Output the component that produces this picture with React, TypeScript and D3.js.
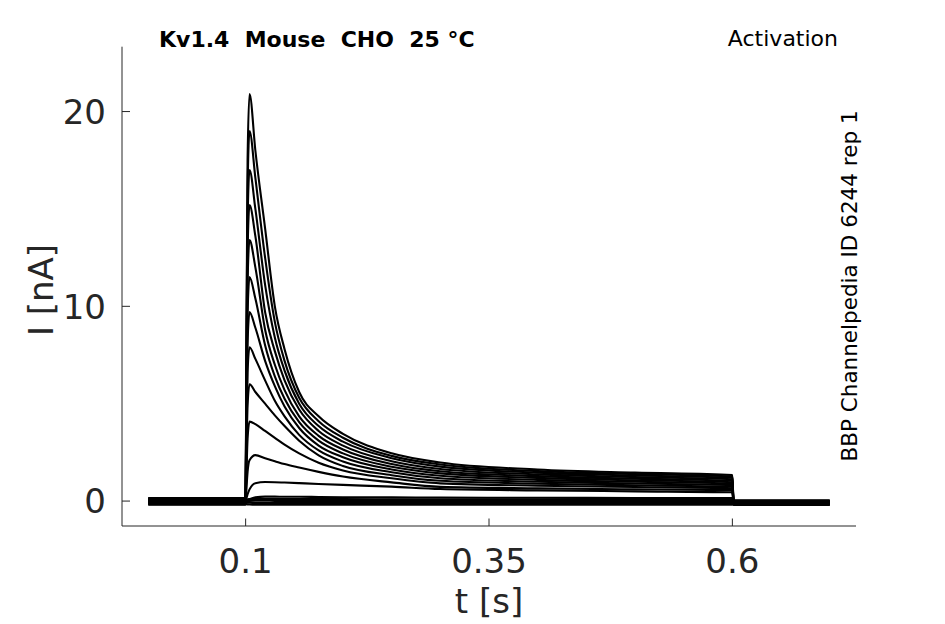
import React from 'react'
import * as d3 from 'd3'

// sample times inside the voltage step (s)
const pulseTimes = [0.1008, 0.102, 0.104, 0.11, 0.12, 0.13, 0.14, 0.155, 0.175, 0.2, 0.25, 0.3, 0.4, 0.5, 0.6]
const tailTimes = [0.6012, 0.7]

// current (nA) of each sweep at pulseTimes
const sweeps = [
  [8, 17.5, 20.9, 18.0, 14.0, 10.0, 7.8, 5.6, 4.35, 3.45, 2.45, 1.98, 1.62, 1.46, 1.34],
  [7.3, 16, 19.0, 16.6, 12.5, 9.2, 7.2, 5.3, 4.1, 3.25, 2.32, 1.88, 1.54, 1.39, 1.27],
  [6.5, 14.3, 17.0, 15.0, 11.1, 8.4, 6.7, 5.0, 3.85, 3.05, 2.2, 1.77, 1.46, 1.31, 1.2],
  [5.8, 12.8, 15.2, 13.6, 9.7, 7.7, 6.2, 4.7, 3.6, 2.85, 2.05, 1.65, 1.37, 1.23, 1.12],
  [5.1, 11.2, 13.4, 12.0, 8.8, 7.0, 5.7, 4.35, 3.35, 2.65, 1.9, 1.53, 1.28, 1.15, 1.04],
  [4.4, 9.6, 11.5, 10.4, 8.0, 6.4, 5.25, 4.05, 3.1, 2.45, 1.76, 1.42, 1.19, 1.07, 0.97],
  [3.7, 8.1, 9.7, 8.9, 7.2, 5.9, 4.85, 3.75, 2.85, 2.25, 1.62, 1.3, 1.09, 0.99, 0.9],
  [3.0, 6.6, 7.9, 7.3, 6.2, 5.15, 4.35, 3.4, 2.6, 2.03, 1.48, 1.17, 0.99, 0.9, 0.82],
  [2.2, 4.9, 6.0, 5.6, 5.0, 4.4, 3.85, 3.1, 2.35, 1.8, 1.33, 1.04, 0.89, 0.81, 0.74],
  [1.4, 3.2, 4.08, 3.95, 3.6, 3.25, 2.9, 2.45, 1.97, 1.57, 1.17, 0.91, 0.79, 0.72, 0.66],
  [0.6, 1.5, 2.1, 2.36, 2.2, 2.05, 1.9, 1.72, 1.5, 1.26, 0.96, 0.73, 0.65, 0.6, 0.56],
  [0.15, 0.35, 0.6, 0.92, 0.98, 0.97, 0.95, 0.92, 0.88, 0.83, 0.74, 0.62, 0.55, 0.5, 0.45],
  [0.02, 0.05, 0.1, 0.2, 0.23, 0.23, 0.22, 0.22, 0.21, 0.2, 0.19, 0.18, 0.17, 0.16, 0.15],
  [0.08, 0.09, 0.1, 0.11, 0.11, 0.1, 0.1, 0.1, 0.1, 0.1, 0.09, 0.09, 0.09, 0.09, 0.09],
  [0.0, 0.0, 0.01, 0.02, 0.02, 0.01, 0.01, 0.01, 0.0, 0.0, 0.0, 0.0, 0.0, 0.0, 0.0],
  [-0.07, -0.08, -0.09, -0.1, -0.1, -0.1, -0.1, -0.1, -0.1, -0.1, -0.1, -0.1, -0.1, -0.1, -0.1],
  [-0.16, -0.17, -0.18, -0.19, -0.19, -0.19, -0.19, -0.19, -0.19, -0.19, -0.19, -0.19, -0.19, -0.19, -0.19],
]
// baseline before the step and after it
const holdLevels = [0.06, -0.06, 0.14, -0.12, 0.0, 0.1, -0.16, 0.03, -0.03, 0.16, -0.09, 0.08, -0.18, 0.02, -0.07, 0.12, -0.13]
const tailLevels = [-0.05, -0.1, 0.02, -0.17, -0.08, -0.02, -0.13, -0.06, -0.2, 0.04, -0.11, -0.04, -0.15, -0.07, 0.0, -0.18, -0.1]

const xTicks = [0.1, 0.35, 0.6]
const yTicks = [0, 10, 20]

const W = 945
const H = 624
const font = 'DejaVu Sans'
const axisColor = '#262626'

export default function App() {
  const x = d3.scaleLinear().domain([-0.027, 0.727]).range([122, 856])
  const y = d3.scaleLinear().domain([-1.28, 23.33]).range([526, 46.7])

  const line = d3
    .line<[number, number]>()
    .x(d => x(d[0]))
    .y(d => y(d[1]))
    .curve(d3.curveMonotoneX)

  const paths = sweeps.map((vals, i) => {
    const pts: [number, number][] = [
      [0, holdLevels[i]],
      [0.1, holdLevels[i]],
      ...pulseTimes.map((t, j) => [t, vals[j]] as [number, number]),
      ...tailTimes.map(t => [t, tailLevels[i]] as [number, number]),
    ]
    return line(pts) || ''
  })

  const [x0, x1] = x.range()
  const [y0, y1] = y.range()

  return (
    <svg width={W} height={H} style={{ position: 'absolute', left: 0, top: 0, background: '#fff' }}>
      <rect width={W} height={H} fill="#fff" />
      {paths.map((d, i) => (
        <path key={i} d={d} fill="none" stroke="#000" strokeWidth={2.1} strokeLinejoin="round" />
      ))}

      {/* axes */}
      <line x1={x0} x2={x0} y1={y0} y2={y1} stroke={axisColor} strokeWidth={1} />
      <line x1={x0} x2={x1} y1={y0} y2={y0} stroke={axisColor} strokeWidth={1} />
      {yTicks.map(t => (
        <g key={'y' + t}>
          <line x1={x0} x2={x0 + 8} y1={y(t)} y2={y(t)} stroke={axisColor} />
          <text x={x0 - 16} y={y(t)} dy="0.36em" textAnchor="end" fontFamily={font} fontSize={34} fill={axisColor}>
            {t}
          </text>
        </g>
      ))}
      {xTicks.map(t => (
        <g key={'x' + t}>
          <line x1={x(t)} x2={x(t)} y1={y0} y2={y0 - 7.5} stroke={axisColor} />
          <text x={x(t)} y={573} textAnchor="middle" fontFamily={font} fontSize={34} fill={axisColor}>
            {t}
          </text>
        </g>
      ))}

      <text x={(x0 + x1) / 2} y={613} textAnchor="middle" fontFamily={font} fontSize={34} fill={axisColor}>
        t [s]
      </text>
      <text transform="translate(53,290) rotate(-90)" textAnchor="middle" fontFamily={font} fontSize={34} fill={axisColor}>
        I [nA]
      </text>

      <text x={159} y={47} fontFamily={font} fontSize={22} fontWeight="bold" fill="#000" style={{ whiteSpace: 'pre' }}>
        {'Kv1.4  Mouse  CHO  25 °C'}
      </text>
      <text x={838} y={46} textAnchor="end" fontFamily={font} fontSize={22} fill="#000">
        Activation
      </text>
      <text transform="translate(857,286) rotate(-90)" textAnchor="middle" fontFamily={font} fontSize={21.5} fill="#000">
        BBP Channelpedia ID 6244 rep 1
      </text>
    </svg>
  )
}
